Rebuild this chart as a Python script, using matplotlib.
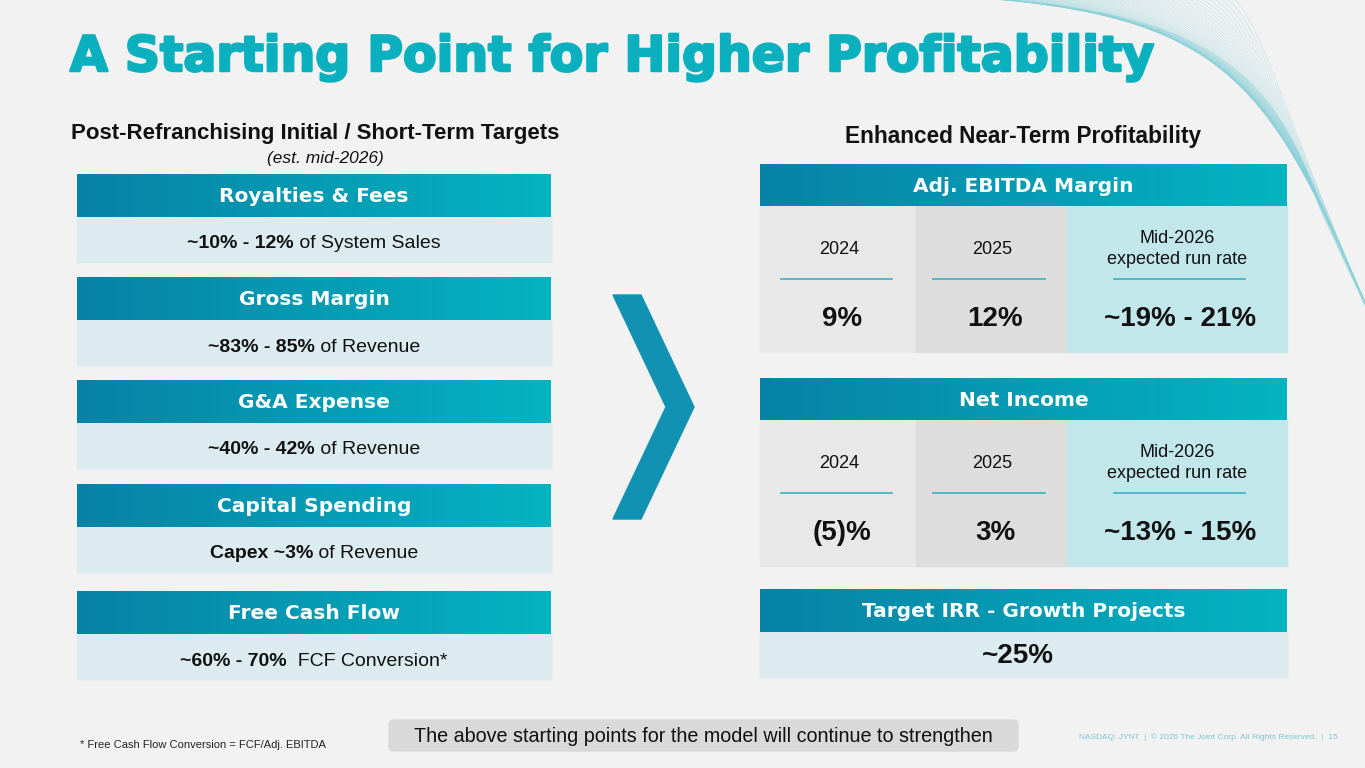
import numpy as np
import matplotlib.pyplot as plt
import matplotlib.patheffects as pe
from matplotlib.colors import LinearSegmentedColormap
from matplotlib.patches import Rectangle, Polygon, FancyBboxPatch

# slide texts / values
title = "A Starting Point for Higher Profitability"
left_title = "Post-Refranchising Initial / Short-Term Targets"
left_note = "(est. mid-2026)"
right_title = "Enhanced Near-Term Profitability"

left_headers = ["Royalties & Fees", "Gross Margin", "G&A Expense", "Capital Spending", "Free Cash Flow"]
left_bold = ["~10% - 12%", "~83% - 85%", "~40% - 42%", "Capex ~3%", "~60% - 70%"]
left_rest = [" of System Sales", " of Revenue", " of Revenue", " of Revenue", "  FCF Conversion*"]

periods = ["2024", "2025", "Mid-2026\nexpected run rate"]
ebitda_vals = ["9%", "12%", "~19% - 21%"]
net_income_vals = ["(5)%", "3%", "~13% - 15%"]
irr_val = "~25%"

footnote = "* Free Cash Flow Conversion = FCF/Adj. EBITDA"
callout = "The above starting points for the model will continue to strengthen"
legal = "NASDAQ: JYNT  |  \u00a9 2026 The Joint Corp. All Rights Reserved.  |  15"

BG = "#F2F2F2"
TEAL = "#0BB0BE"
BODY = "#DCEBEF"
COLS = ["#E8E8E8", "#DDDDDD", "#C1E7EA"]
grad_cmap = LinearSegmentedColormap.from_list("hdr", ["#0882A6", "#04B4C1"])
SANS = ["Liberation Sans", "DejaVu Sans"]

fig = plt.figure(figsize=(13.65, 7.68), dpi=100)
fig.patch.set_facecolor(BG)
ax = fig.add_axes([0, 0, 1, 1])
ax.set_facecolor(BG)
renderer = fig.canvas.get_renderer()


def header(x0, x1, y0, y1, label):
    grad = np.linspace(0, 1, 256).reshape(1, -1)
    ax.imshow(grad, extent=(x0, x1, y1, y0), cmap=grad_cmap, aspect="auto", zorder=2)
    ax.text((x0 + x1) / 2, (y0 + y1) / 2 + 1, label, color="white", fontsize=14.5,
            fontweight="bold", family="DejaVu Sans", ha="center", va="center", zorder=3)


def rich_line(xc, y, parts, size):
    texts = []
    for s, w in parts:
        texts.append(ax.text(0, y, s, fontsize=size, fontweight=w, family=SANS,
                             ha="left", va="center", color="#111111", zorder=3))
    widths = [t.get_window_extent(renderer).width for t in texts]
    x = xc - sum(widths) / 2
    for t, w in zip(texts, widths):
        t.set_x(x)
        x += w


# background waves (decoration, top right)
for i in range(60):
    t = np.linspace(0, 1, 150)[:, None]
    p0 = np.array([820 + i * 7, -8 + i * 0.1])
    p1 = np.array([1160 + i * 1.8, -4 + i * 0.5])
    p2 = np.array([1265 + i * 0.6, 30 + i * 2.4])
    p3 = np.array([1320 + i * 1.6, 210 + i * 3.4])
    pts = (1 - t) ** 3 * p0 + 3 * (1 - t) ** 2 * t * p1 + 3 * (1 - t) * t ** 2 * p2 + t ** 3 * p3
    ax.plot(pts[:, 0], pts[:, 1], color="#8BD1D9", lw=0.5, alpha=0.4, zorder=0)

# title
tt = ax.text(70, 57, title, color=TEAL, fontsize=30, fontweight="bold",
             family="DejaVu Sans", ha="left", va="center",
             path_effects=[pe.Stroke(linewidth=1.8, foreground=TEAL, joinstyle="round"),
                           pe.Normal()])
w = tt.get_window_extent(renderer).width
tt.set_fontsize(30 * 1083 / w)

ax.text(315, 133, left_title, fontsize=16, fontweight="bold", family=SANS,
        ha="center", va="center", color="#111111")
ax.text(325, 159, left_note, fontsize=12.5, style="italic", family=SANS,
        ha="center", va="center", color="#111111")
ax.text(1023, 137, right_title, fontsize=16.3, fontweight="bold", family=SANS,
        ha="center", va="center", color="#111111")

# left column boxes
LX0, LX1 = 77, 551
tops = [174, 277, 380, 484, 591]
for top, lab, b, r in zip(tops, left_headers, left_bold, left_rest):
    header(LX0, LX1, top, top + 43, lab)
    ax.add_patch(Rectangle((LX0, top + 43), LX1 - LX0, 45, color=BODY, zorder=1))
    rich_line((LX0 + LX1) / 2, top + 70, [(b, "bold"), (r, "normal")], 14)

# chevron
ax.add_patch(Polygon([(613, 295), (641, 295), (694, 407), (641, 519), (613, 519), (666, 407)],
                     closed=True, color="#1192B2", zorder=2))

# right tables
RX0, RX1 = 760, 1287
col_edges = [RX0, 916, 1067, RX1]
line_spans = [(781, 892), (933, 1045), (1114, 1245)]


def table(top, label, vals):
    header(RX0, RX1, top, top + 42, label)
    body_top, body_bot = top + 42, top + 188
    for k in range(3):
        x0, x1 = col_edges[k], col_edges[k + 1]
        ax.add_patch(Rectangle((x0, body_top), x1 - x0, body_bot - body_top,
                               color=COLS[k], zorder=1))
        xc = (x0 + x1) / 2 + (1 if k < 2 else 0)
        ax.text(xc, top + 85, periods[k], fontsize=13, family=SANS, ha="center",
                va="center", color="#111111", linespacing=1.25, zorder=3)
        la, lb = line_spans[k]
        ax.plot([la, lb], [top + 115, top + 115], color="#3AB2BF", lw=1.2, zorder=3)
        ax.text(xc + 3, top + 155, vals[k], fontsize=20, fontweight="bold", family=SANS,
                ha="center", va="center", color="#111111", zorder=3)


table(164, "Adj. EBITDA Margin", ebitda_vals)
table(378, "Net Income", net_income_vals)

header(RX0, RX1, 589, 632, "Target IRR - Growth Projects")
ax.add_patch(Rectangle((RX0, 632), RX1 - RX0, 45, color=BODY, zorder=1))
ax.text(1018, 656, irr_val, fontsize=20, fontweight="bold", family=SANS,
        ha="center", va="center", color="#111111", zorder=3)

# footer
ax.text(80, 745, footnote, fontsize=8, family=SANS, ha="left", va="center", color="#222222")
ax.add_patch(FancyBboxPatch((389, 720), 629, 31, boxstyle="round,pad=0,rounding_size=5",
                            color="#D9D9D9", zorder=1))
ax.text(703, 736, callout, fontsize=14.2, family=SANS, ha="center", va="center",
        color="#111111", zorder=3)
ax.text(1338, 737, legal, fontsize=6, family=SANS, ha="right", va="center", color="#7CC6CF")

ax.set_xlim(0, 1365)
ax.set_ylim(768, 0)
ax.axis("off")
fig.savefig("out.png", dpi=100, facecolor=BG)
